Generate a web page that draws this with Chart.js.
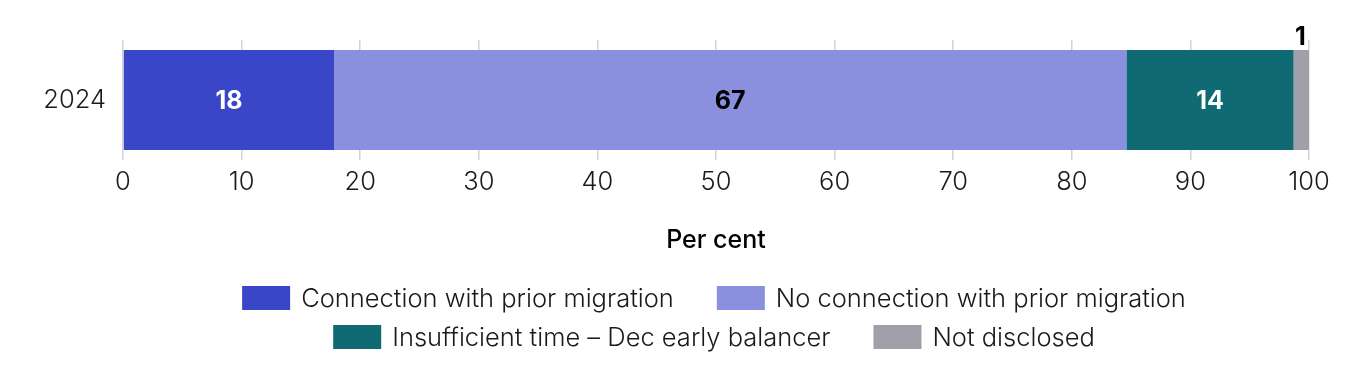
<!DOCTYPE html>
<html><head><meta charset="utf-8">
<script src="https://cdn.jsdelivr.net/npm/chart.js@4/dist/chart.umd.min.js"></script>
<style>html,body{margin:0;padding:0;background:#fff;}#wrap{width:1360px;height:390px;}</style>
</head><body><div id="wrap"><canvas id="c" width="1360" height="390"></canvas></div>
<script>
const categories = ['2024'];
const seriesNames = ['Connection with prior migration','No connection with prior migration','Insufficient time \u2013 Dec early balancer','Not disclosed'];
const conn = [17.8];
const noConn = [66.8];
const insuff = [14.1];
const notDisc = [1.3];
const valueLabels = [['18'],['67'],['14'],['1']];
const colors = ['#3A46C8','#8A90DE','#0F6A74','#A19FAA'];
const labelColors = ['#ffffff','#000000','#ffffff','#000000'];
const xTicks = [0,10,20,30,40,50,60,70,80,90,100];

const FONT = 'Inter, "Noto Sans", sans-serif';

const dataLabelPlugin = {
  id: 'dataLabels',
  afterDatasetsDraw(chart) {
    const ctx = chart.ctx;
    ctx.save();
    ctx.font = '700 25px ' + FONT;
    ctx.textAlign = 'center';
    chart.data.datasets.forEach((ds, i) => {
      const meta = chart.getDatasetMeta(i);
      meta.data.forEach((el, j) => {
        const w = Math.abs(el.x - el.base);
        const cx = (el.x + el.base) / 2;
        const txt = valueLabels[i][j];
        if (w < 30) {
          ctx.fillStyle = '#000';
          ctx.textBaseline = 'alphabetic';
          ctx.fillText(txt, cx - 1, el.y - el.height / 2 - 5);
        } else {
          ctx.fillStyle = labelColors[i];
          ctx.textBaseline = 'middle';
          ctx.fillText(txt, cx, el.y + 1);
        }
      });
    });
    ctx.restore();
  }
};

const legendPlugin = {
  id: 'customLegend',
  afterDraw(chart) {
    const ctx = chart.ctx;
    const boxW = 48, boxH = 24, gapText = 11, gapItem = 43, lineH = 39;
    ctx.save();
    ctx.font = '300 25.5px ' + FONT;
    const items = chart.data.datasets.map((ds) => ({
      text: ds.label, color: ds.backgroundColor,
      w: boxW + gapText + ctx.measureText(ds.label).width
    }));
    const maxW = chart.width - 40;
    const rows = [[]];
    let cur = 0;
    items.forEach((it) => {
      const add = (rows[rows.length-1].length ? gapItem : 0) + it.w;
      if (rows[rows.length-1].length && cur + add > maxW) { rows.push([]); cur = 0; }
      cur += (rows[rows.length-1].length ? gapItem : 0) + it.w;
      rows[rows.length-1].push(it);
    });
    const startY = chart.scales.x.bottom + 38;
    const centerX = (chart.chartArea.left + chart.chartArea.right) / 2 - 2;
    rows.forEach((row, r) => {
      const total = row.reduce((s, it) => s + it.w, 0) + gapItem * (row.length - 1);
      let x = centerX - total / 2;
      const y = startY + r * lineH;
      row.forEach((it) => {
        ctx.fillStyle = it.color;
        ctx.fillRect(x, y - boxH / 2, boxW, boxH);
        ctx.fillStyle = '#1a1a1a';
        ctx.textAlign = 'left';
        ctx.textBaseline = 'middle';
        ctx.fillText(it.text, x + boxW + gapText, y + 1);
        x += it.w + gapItem;
      });
    });
    ctx.restore();
  }
};

const seriesValues = [conn, noConn, insuff, notDisc];
new Chart(document.getElementById('c'), {
  type: 'bar',
  data: {
    labels: categories,
    datasets: seriesValues.map((vals, i) => ({
      label: seriesNames[i],
      data: vals,
      backgroundColor: colors[i],
      borderWidth: 0,
      barPercentage: 0.833,
      categoryPercentage: 1
    }))
  },
  options: {
    indexAxis: 'y',
    responsive: false,
    animation: false,
    devicePixelRatio: 1,
    layout: { padding: { left: 0, right: 51, top: 40, bottom: 130 } },
    plugins: { legend: { display: false }, tooltip: { enabled: false } },
    scales: {
      x: {
        stacked: true,
        min: 0, max: 100,
        afterBuildTicks(scale) { scale.ticks = xTicks.map(v => ({ value: v })); },
        afterFit(scale) { scale.height = 100; },
        grid: { color: '#d4d4d4', lineWidth: 1.5, drawTicks: false },
        border: { display: false },
        ticks: { color: '#1a1a1a', font: { family: FONT, size: 25.5, weight: '300' }, padding: 7, maxRotation: 0 },
        title: { display: true, text: 'Per cent', color: '#000', font: { family: FONT, size: 25, weight: '500' }, padding: { top: 0, bottom: 5 } }
      },
      y: {
        stacked: true,
        afterFit(scale) { scale.width = 123; },
        grid: { display: false },
        border: { display: false },
        ticks: { color: '#1a1a1a', font: { family: FONT, size: 25.5, weight: '300' }, padding: 9 }
      }
    }
  },
  plugins: [dataLabelPlugin, legendPlugin]
});
</script>
</body></html>
